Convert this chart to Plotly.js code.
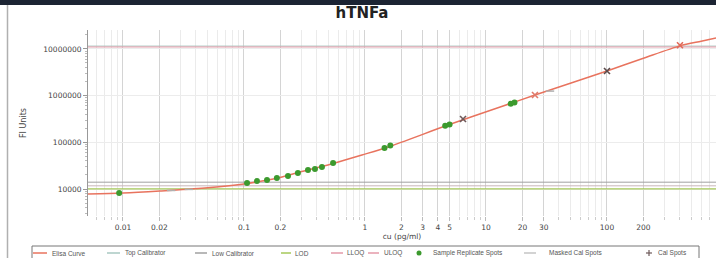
<!DOCTYPE html>
<html><head><meta charset="utf-8">
<script src="https://cdn.plot.ly/plotly-3.0.1.min.js"></script>
<style>html,body{margin:0;padding:0;background:#fff;overflow:hidden}#chart{width:716px;height:258px}</style>
</head><body><div id="chart"></div>
<script>
// Elisa curve
const curveX = [0.00514, 0.01, 0.0202, 0.0476, 0.1, 0.141, 0.206, 0.29, 0.425, 0.565, 0.944, 1.55, 4.85, 13.1, 25.4, 100, 200, 401, 600, 796];
const curveY = [7820, 8200, 9060, 10500, 12800, 14800, 18100, 23100, 29600, 36100, 53500, 79300, 234000, 570000, 1030000, 3370000, 6300000, 11600000, 14600000, 17100000];
// Sample replicate spots
const sampleX = [0.0093, 0.106, 0.128, 0.155, 0.187, 0.231, 0.279, 0.338, 0.386, 0.441, 0.545, 1.45, 1.62, 4.6, 5.0, 16.0, 17.2];
const sampleY = [8200, 13400, 14800, 15600, 17200, 19000, 22000, 25500, 26800, 29600, 36100, 76000, 85000, 225000, 240000, 670000, 710000];
// Cal spots
const calX = [6.46, 25.4, 100, 401];
const calY = [315000, 1030000, 3370000, 12000000];
// Masked cal spots
const maskedX = [0.025, 0.035, 33.8];
const maskedY = [9300, 9800, 1250000];
// Reference levels
const topCal = 11500000, uloq = 11000000, lowCal = 14000, lloq = 11700, lod = 10100;
// Tick labels
const xTicks = [0.01, 0.02, 0.1, 0.2, 1, 2, 3, 4, 5, 10, 20, 30, 100, 200, 900];
const xTickText = ['0.01', '0.02', '0.1', '0.2', '1', '2', '3', '4', '5', '10', '20', '30', '100', '200', '900'];
const yTicks = [10000, 100000, 1000000, 10000000];
const yTickText = ['10000', '100000', '1000000', '10000000'];
// Legend labels
const legendNames = ['Elisa Curve', 'Top Calibrator', 'Low Calibrator', 'LOD', 'LLOQ', 'ULOQ', 'Sample Replicate Spots', 'Masked Cal Spots', 'Cal Spots'];

const C = {curve: '#e8735e', top: '#a9c9c2', low: '#a0a0a0', lod: '#a6c85a', lloq: '#e39aa8', uloq: '#e59aa8', sample: '#3c9a2e', masked: '#c4c4c4', cal: '#6e5a5a'};

const xMinor = [];
for (let e = -3; e <= 2; e++) for (let m = 1; m <= 9; m++) xMinor.push(m * Math.pow(10, e));
const yMinor = [];
for (let e = 3; e <= 7; e++) for (let m = 2; m <= 9; m++) yMinor.push(m * Math.pow(10, e));

const xL = 0.00514, xR = 796;
function hline(name, y, color, w) {
  return {x: [xL, xR], y: [y, y], mode: 'lines', name: name, line: {color: color, width: w}, hoverinfo: 'skip'};
}

const traces = [
  hline(legendNames[1], topCal, C.top, 1),
  hline(legendNames[5], uloq, C.uloq, 1),
  hline(legendNames[2], lowCal, C.low, 1),
  hline(legendNames[4], lloq, '#c9b6ba', 1),
  hline(legendNames[3], lod, C.lod, 1.2),
  {x: curveX, y: curveY, mode: 'lines', name: legendNames[0], line: {color: C.curve, width: 1.5, shape: 'spline', smoothing: 0.8}},
  {x: sampleX, y: sampleY, mode: 'markers', name: legendNames[6], marker: {color: C.sample, size: 6}},
  {x: maskedX, y: maskedY, mode: 'markers', name: legendNames[7], marker: {size: 6, symbol: 'line-ew', line: {color: '#b0b0b0', width: 1.5}}},
  {x: calX, y: calY, mode: 'markers', name: legendNames[8], marker: {size: 6, symbol: 'x-thin', line: {color: ['#6e5a5a', '#e07a6a', '#5a4a4a', '#e06a5a'], width: 1.6}}}
];

// custom legend (pixel layout converted to paper coordinates)
const PL = 88, PW = 628, PB = 216, PH = 186;
const px = v => (v - PL) / PW, py = v => (PB - v) / PH;
const legSym = [[33, 47], [107, 120], [195, 207], [281, 291], [331, 343], [368, 379], [419, 419], [524, 536], [649, 649]];
const legText = [50, 123, 210, 293, 345, 382, 431, 547, 656];
const legColor = [C.curve, C.top, C.low, C.lod, C.lloq, C.uloq, C.sample, C.masked, C.cal];
const LY = 253;
const shapes = [
  {type: 'rect', xref: 'paper', yref: 'paper', x0: px(32), x1: px(699), y0: py(262), y1: py(246), line: {color: '#777', width: 1}, fillcolor: 'rgba(0,0,0,0)'}
];
const annotations = [];
legendNames.forEach((n, i) => {
  const s = legSym[i];
  if (i === 6) {
    shapes.push({type: 'circle', xref: 'paper', yref: 'paper', x0: px(s[0] - 2.5), x1: px(s[0] + 2.5), y0: py(LY + 2.5), y1: py(LY - 2.5), fillcolor: legColor[i], line: {width: 0}});
  } else if (i === 8) {
    shapes.push({type: 'line', xref: 'paper', yref: 'paper', x0: px(s[0] - 3), x1: px(s[0] + 3), y0: py(LY), y1: py(LY), line: {color: legColor[i], width: 1.2}});
    shapes.push({type: 'line', xref: 'paper', yref: 'paper', x0: px(s[0]), x1: px(s[0]), y0: py(LY + 3), y1: py(LY - 3), line: {color: legColor[i], width: 1.2}});
  } else {
    shapes.push({type: 'line', xref: 'paper', yref: 'paper', x0: px(s[0]), x1: px(s[1]), y0: py(LY), y1: py(LY), line: {color: legColor[i], width: 1.5}});
  }
  annotations.push({xref: 'paper', yref: 'paper', x: px(legText[i]), y: py(LY), xanchor: 'left', yanchor: 'middle', showarrow: false,
                    text: n, font: {family: 'Liberation Sans, Arial, sans-serif', size: 6.5, color: '#555'}});
});
// screenshot frame: dark band at top, gray rule at left
shapes.push({type: 'rect', xref: 'paper', yref: 'paper', x0: px(-5), x1: px(720), y0: py(5), y1: py(-3), fillcolor: '#1c2433', line: {width: 0}});
shapes.push({type: 'line', xref: 'paper', yref: 'paper', x0: px(7.5), x1: px(7.5), y0: py(262), y1: py(5), line: {color: '#b0b0b0', width: 1.5}});

const layout = {
  width: 716, height: 258,
  margin: {l: 88, r: 0, t: 30, b: 42},
  paper_bgcolor: '#ffffff', plot_bgcolor: '#ffffff',
  font: {family: 'DejaVu Sans, sans-serif', size: 7, color: '#444'},
  title: {text: '<b>hTNFa</b>', font: {family: 'DejaVu Sans, sans-serif', size: 15, color: '#222'}, x: 0.5056, xref: 'container', xanchor: 'center', y: 0.952, yref: 'container', yanchor: 'middle'},
  showlegend: false,
  xaxis: {type: 'log', range: [Math.log10(0.00514), Math.log10(796)], tickmode: 'array', tickvals: xTicks, ticktext: xTickText,
          ticklabeloverflow: 'allow', ticks: 'outside', ticklen: 4, tickcolor: '#bbb', showgrid: true, gridcolor: '#d4d4d4',
          minor: {tickmode: 'array', tickvals: xMinor, showgrid: true, gridcolor: '#ebebeb', ticks: 'outside', ticklen: 3, tickcolor: '#ccc'},
          showline: false, zeroline: false, automargin: false, tickfont: {family: 'DejaVu Sans, sans-serif', size: 7.5, color: '#444'},
          title: {text: 'cu (pg/ml)', font: {family: 'DejaVu Sans, sans-serif', size: 7.5, color: '#444'}, standoff: 2}},
  yaxis: {type: 'log', range: [3.422, 7.405], tickmode: 'array', tickvals: yTicks, ticktext: yTickText,
          ticks: 'outside', ticklen: 4, tickcolor: '#999', showgrid: true, gridcolor: '#ececec',
          minor: {tickmode: 'array', tickvals: yMinor, showgrid: false, ticks: 'outside', ticklen: 2, tickcolor: '#bbb'},
          showline: true, linecolor: '#999', linewidth: 1, zeroline: false, automargin: false, tickfont: {family: 'DejaVu Sans, sans-serif', size: 7.5, color: '#444'},
          title: {text: 'FI Units', font: {family: 'DejaVu Sans, sans-serif', size: 8, color: '#444'}, standoff: 15}},
  shapes: shapes,
  annotations: annotations
};
Plotly.newPlot('chart', traces, layout, {staticPlot: true, displayModeBar: false});
</script></body></html>
